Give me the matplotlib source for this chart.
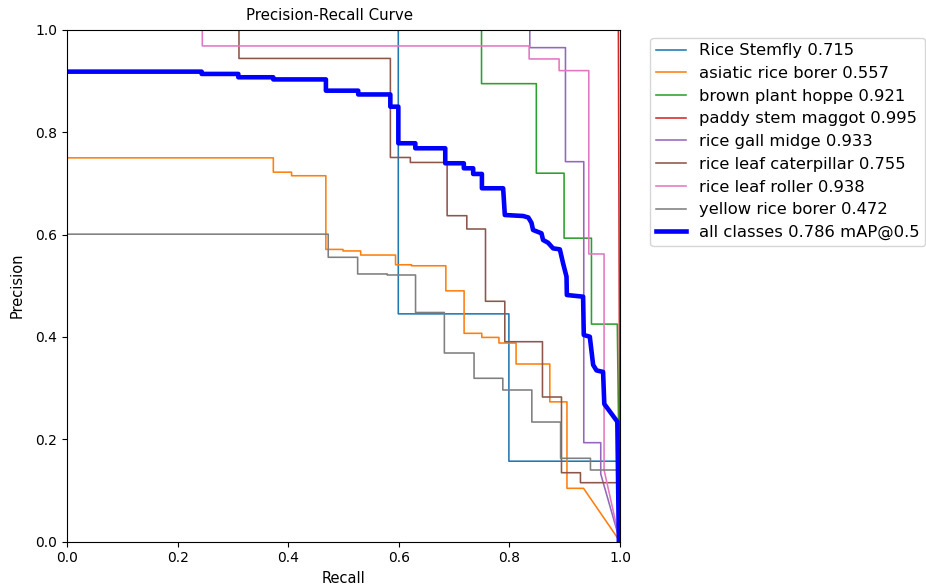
import numpy as np
import matplotlib
matplotlib.use("Agg")
import matplotlib.pyplot as plt

# ---- data ----
class_names = ["Rice Stemfly", "asiatic rice borer", "brown plant hoppe",
               "paddy stem maggot", "rice gall midge", "rice leaf caterpillar",
               "rice leaf roller", "yellow rice borer"]
class_ap = [0.715, 0.557, 0.921, 0.995, 0.933, 0.755, 0.938, 0.472]
map50 = 0.786

# recall break points (where precision drops) and precision levels
stemfly_r = [0.599, 0.799, 0.995]
stemfly_p = [1.0, 0.445, 0.157, 0.157]

asiatic_r = [0.373, 0.406, 0.468, 0.499, 0.531, 0.594, 0.623, 0.685, 0.718,
             0.750, 0.781, 0.812, 0.873, 0.904, 0.934]
asiatic_p = [0.750, 0.722, 0.715, 0.571, 0.568, 0.560, 0.541, 0.539, 0.490,
             0.407, 0.399, 0.388, 0.347, 0.273, 0.104, 0.104]

hopper_r = [0.7495, 0.8486, 0.8988, 0.9483, 0.995]
hopper_p = [1.0, 0.895, 0.720, 0.593, 0.425, 0.425]

maggot_r = [0.997]
maggot_p = [1.0, 1.0]

midge_r = [0.8368, 0.9013, 0.9344, 0.9651]
midge_p = [1.0, 0.9654, 0.7425, 0.1932, 0.132]

caterpillar_r = [0.3109, 0.5847, 0.6208, 0.6873, 0.7229, 0.7567, 0.7916,
                 0.8597, 0.8941, 0.9284, 0.995]
caterpillar_p = [1.0, 0.9443, 0.7507, 0.7410, 0.6369, 0.6109, 0.4696,
                 0.3906, 0.2825, 0.1345, 0.1150, 0.1150]

roller_r = [0.2446, 0.8356, 0.8898, 0.9435, 0.9711]
roller_p = [1.0, 0.9687, 0.9433, 0.9205, 0.5621, 0.140]

yellow_r = [0.4723, 0.5255, 0.5790, 0.6302, 0.6823, 0.7360, 0.7880, 0.8405,
            0.8925, 0.9465, 0.995]
yellow_p = [0.6008, 0.5556, 0.5230, 0.5210, 0.4477, 0.3685, 0.3191, 0.2962,
            0.2336, 0.1627, 0.1398, 0.1398]

# all classes (mean) curve vertices
all_rec = [0.0, 0.2434, 0.2434, 0.3097, 0.3097, 0.3729, 0.3729, 0.4681, 0.4681,
           0.5265, 0.5265, 0.5846, 0.5846, 0.5991, 0.5991, 0.6298, 0.6298,
           0.6839, 0.6839, 0.7175, 0.7175, 0.7344, 0.7344, 0.7502, 0.7502,
           0.7886, 0.7916, 0.8248, 0.8341, 0.8398, 0.8427, 0.8579, 0.8608,
           0.8698, 0.8789, 0.8911, 0.8970, 0.9032, 0.9038, 0.9332, 0.9344,
           0.9453, 0.9513, 0.9574, 0.9693, 0.9715, 0.9951, 0.9978]
all_prec = [0.9185, 0.9185, 0.9140, 0.9140, 0.9075, 0.9075, 0.9033, 0.9033,
            0.8813, 0.8813, 0.8739, 0.8739, 0.8500, 0.8500, 0.7785, 0.7785,
            0.7687, 0.7687, 0.7394, 0.7394, 0.7296, 0.7296, 0.7185, 0.7185,
            0.6905, 0.6905, 0.6383, 0.6363, 0.6334, 0.6231, 0.6090, 0.6025,
            0.5894, 0.5841, 0.5731, 0.5711, 0.5437, 0.5177, 0.4819, 0.4786,
            0.4037, 0.4004, 0.3454, 0.3345, 0.3315, 0.2689, 0.2342, 0.0]

curves_r = [stemfly_r, asiatic_r, hopper_r, maggot_r, midge_r,
            caterpillar_r, roller_r, yellow_r]
curves_p = [stemfly_p, asiatic_p, hopper_p, maggot_p, midge_p,
            caterpillar_p, roller_p, yellow_p]


def step_path(r, p):
    xs, ys = [0.0], [p[0]]
    for i, ri in enumerate(r):
        xs += [ri, ri]
        ys += [p[i], p[i + 1]]
    xs.append(1.0)
    ys.append(0.0)
    return xs, ys


fig = plt.figure(figsize=(9.26, 5.86), dpi=100)
ax = fig.add_axes([0.0724, 0.0759, 0.5972, 0.8730])

for i, (r, p) in enumerate(zip(curves_r, curves_p)):
    xs, ys = step_path(r, p)
    ax.plot(xs, ys, linewidth=1.15, color=f"C{i}",
            label=f"{class_names[i]} {class_ap[i]:.3f}")

ax.plot(all_rec, all_prec, linewidth=3.3, color="blue",
        label=f"all classes {map50:.3f} mAP@0.5")

ax.set_xlim(0, 1)
ax.set_ylim(0, 1)
ax.set_xlabel("Recall", fontsize=10.5)
ax.set_ylabel("Precision", fontsize=10.5, labelpad=7.5)
ax.set_title("Precision-Recall Curve", fontsize=10.8, x=0.475, pad=7.5)
ax.tick_params(labelsize=10)
ax.legend(bbox_to_anchor=(1.055, 0.985), loc="upper left", fontsize=11.8,
          labelspacing=0.47, handlelength=1.8, borderaxespad=0.0,
          borderpad=0.35)

fig.savefig("out.png", dpi=100)
